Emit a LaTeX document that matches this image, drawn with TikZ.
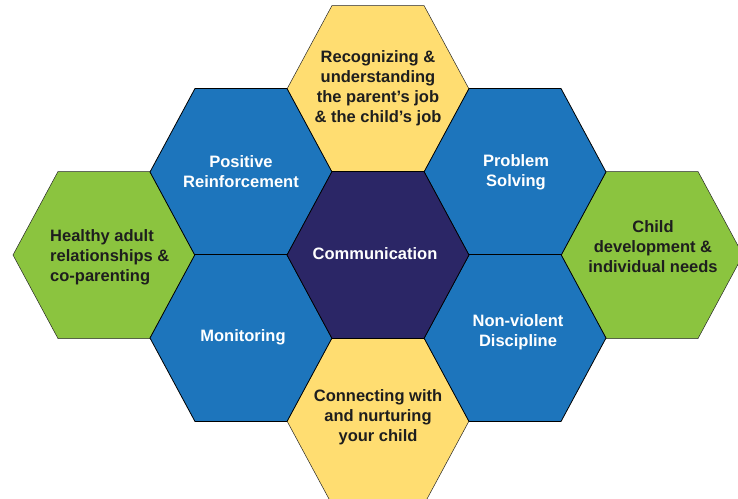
\documentclass[tikz,border=0pt]{standalone}
\usepackage{fontspec}
\setmainfont{Liberation Sans}
\definecolor{hblue}{RGB}{29,117,188}
\definecolor{hnavy}{RGB}{43,38,102}
\definecolor{hyellow}{RGB}{255,221,113}
\definecolor{hgreen}{RGB}{139,196,63}
\definecolor{htext}{RGB}{30,30,30}
\tikzset{
  lbl/.style={font=\fontsize{16.5}{20}\selectfont\bfseries, inner sep=0pt, align=center},
  lightlbl/.style={lbl, text=white},
  darklbl/.style={lbl, text=htext},
  hexedge/.style={draw=black!85, line width=0.5pt},
  hexedgeb/.style={draw=black, line width=0.8pt}
}
\newcommand{\hexpath}[3]{%
  \path[#3] (#1-91,#2) -- (#1-46,#2-83.5) -- (#1+46,#2-83.5) -- (#1+91,#2) -- (#1+46,#2+83.5) -- (#1-46,#2+83.5) -- cycle;}
\begin{document}
\begin{tikzpicture}[x=1pt,y=-1pt]
\useasboundingbox (0,0) rectangle (738,498);
\begin{scope}
\clip (0,0) rectangle (738,498);
% outer green and yellow hexagons
\hexpath{104}{255}{fill=hgreen, hexedge}
\hexpath{652}{255}{fill=hgreen, hexedge}
\hexpath{378}{89}{fill=hyellow, hexedge}
\hexpath{378}{421}{fill=hyellow, hexedge}
% blue hexagons
\hexpath{241}{172}{fill=hblue, hexedgeb}
\hexpath{241}{338}{fill=hblue, hexedgeb}
\hexpath{515}{172}{fill=hblue, hexedgeb}
\hexpath{515}{338}{fill=hblue, hexedgeb}
% centre
\hexpath{378}{255}{fill=hnavy, hexedgeb}
\end{scope}
% labels
\node[darklbl] (recog) at (378,88) {Recognizing \&\\understanding\\the parent’s job\\\& the child’s job};
\node[lightlbl] (posrein) at (241,172) {Positive\\Reinforcement};
\node[lightlbl] (probsolv) at (516,172) {Problem\\Solving};
\node[lightlbl] (comm) at (375,254) {Communication};
\node[darklbl, align=left, anchor=west] (healthy) at (50,257) {Healthy adult\\relationships \&\\co-parenting};
\node[darklbl] (childdev) at (653,247) {Child\\development \&\\individual needs};
\node[lightlbl] (monit) at (243,337) {Monitoring};
\node[lightlbl] (nonviol) at (518,332) {Non-violent\\Discipline};
\node[darklbl] (connect) at (378,417) {Connecting with\\and nurturing\\your child};
\end{tikzpicture}
\end{document}
